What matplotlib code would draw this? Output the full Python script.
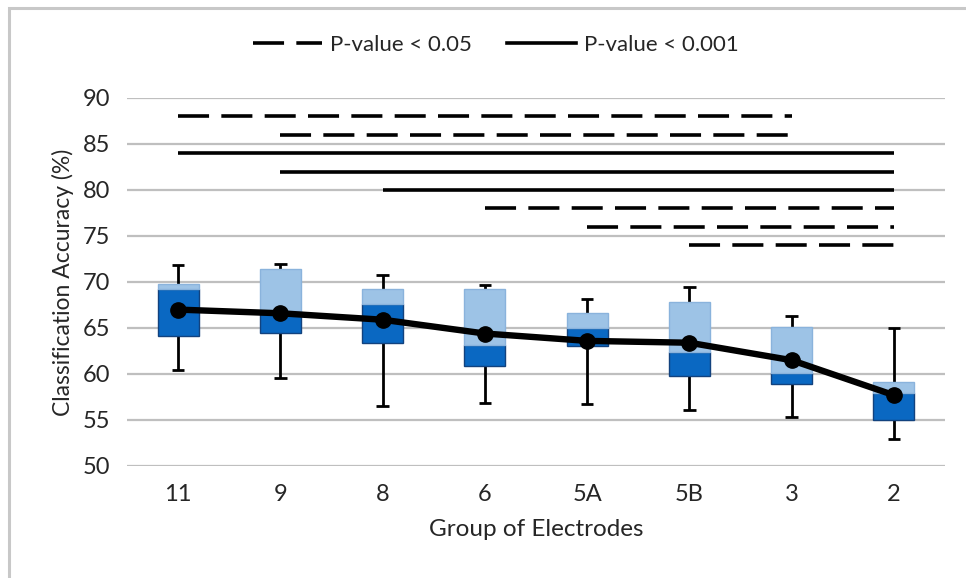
import matplotlib
matplotlib.use('Agg')
import matplotlib.pyplot as plt
from matplotlib.lines import Line2D
from matplotlib.patches import Rectangle

plt.rcParams['font.family'] = ['Lato', 'DejaVu Sans']

# 电极组别
groups = ['11', '9', '8', '6', '5A', '5B', '3', '2']
# 箱线图数据: 最小值、下四分位、中位数、上四分位、最大值、平均值
wmin = [60.4, 59.6, 56.5, 56.8, 56.7, 56.1, 55.3, 52.9]
q1 = [64.1, 64.5, 63.4, 60.9, 63.0, 59.8, 58.9, 55.0]
med = [69.2, 66.8, 67.6, 63.1, 65.0, 62.4, 60.1, 57.9]
q3 = [69.8, 71.4, 69.2, 69.2, 66.6, 67.8, 65.1, 59.1]
wmax = [71.9, 72.0, 70.8, 69.7, 68.2, 69.5, 66.3, 65.0]
mean = [67.0, 66.6, 65.9, 64.4, 63.6, 63.4, 61.5, 57.7]

# 显著性横线: 起点组、终点组、高度、类型
sig_from = [0, 1, 0, 1, 2, 3, 4, 5]
sig_to = [6, 6, 7, 7, 7, 7, 7, 7]
sig_y = [88, 86, 84, 82, 80, 78, 76, 74]
sig_kind = ['p05', 'p05', 'p001', 'p001', 'p001', 'p05', 'p05', 'p05']

txt = '#262626'
dash = (0, (8.6, 3.4))

fig = plt.figure(figsize=(9.66, 5.78), dpi=100)
ax = fig.add_axes([127/966, 1-466/578, 818/966, 368/578])

# 外框
fig.patches.append(Rectangle((9/966, -0.1), 1.2, 1.1-8/578, transform=fig.transFigure,
                             fill=False, edgecolor='#c8c8c8', linewidth=2.2))

x = list(range(len(groups)))
bw = 0.4
cap = 0.06

# 须线
for i in x:
    ax.vlines(i, wmin[i], wmax[i], color='black', linewidth=2, zorder=2)
    ax.hlines([wmin[i], wmax[i]], i-cap, i+cap, color='black', linewidth=2, zorder=2)

# 箱体: 下半深蓝, 上半浅蓝
ax.bar(x, [m-a for m, a in zip(med, q1)], bottom=q1, width=bw,
       color='#0a68c2', edgecolor='#12427e', linewidth=1, zorder=3)
ax.bar(x, [b-m for b, m in zip(q3, med)], bottom=med, width=bw,
       color='#9dc3e6', edgecolor='#8ab3dc', linewidth=1, zorder=3)

# 平均值折线
ax.plot(x, mean, color='black', linewidth=4.6, marker='o', markersize=11, zorder=5)

# 显著性标记
for a, b, yy, k in zip(sig_from, sig_to, sig_y, sig_kind):
    ls = dash if k == 'p05' else '-'
    ax.plot([a, b], [yy, yy], color='black', linewidth=2.6, linestyle=ls,
            solid_capstyle='butt', dash_capstyle='butt', zorder=4)

ax.set_xlim(-0.5, len(groups)-0.5)
ax.set_ylim(50, 90)
ax.set_yticks(range(50, 91, 5))
ax.set_xticks(x)
ax.set_xticklabels(groups)
ax.yaxis.grid(True, color='#bfbfbf', linewidth=1.6)
ax.set_axisbelow(True)
for s in ax.spines.values():
    s.set_visible(False)
ax.tick_params(axis='both', length=0, labelsize=17, colors=txt)
ax.tick_params(axis='x', pad=13)
ax.tick_params(axis='y', pad=12)
ax.set_ylabel('Classification Accuracy (%)', fontsize=16.5, color=txt, labelpad=6)
ax.set_xlabel('Group of Electrodes', fontsize=17.5, color=txt, labelpad=10)

handles = [Line2D([], [], color='black', linewidth=2.6, linestyle=dash),
           Line2D([], [], color='black', linewidth=2.6)]
fig.legend(handles, ['P-value < 0.05', 'P-value < 0.001'], loc='center',
           bbox_to_anchor=(496/966, 1-45/578), ncol=2, frameon=False, fontsize=16,
           handlelength=3.1, handletextpad=0.35, columnspacing=1.6, labelcolor=txt)

fig.savefig('out.png', dpi=100)
